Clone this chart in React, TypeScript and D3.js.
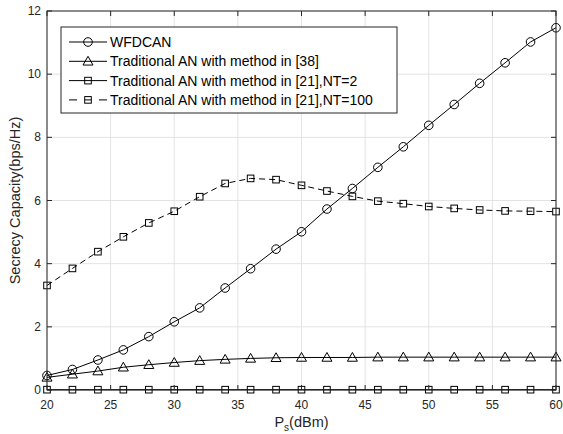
import React from "react";
import * as d3 from "d3";

const W = 563;
const H = 434;

const powerDbm = [20, 22, 24, 26, 28, 30, 32, 34, 36, 38, 40, 42, 44, 46, 48, 50, 52, 54, 56, 58, 60];

const wfdcan = [0.46, 0.65, 0.95, 1.27, 1.69, 2.16, 2.6, 3.23, 3.84, 4.46, 5.01, 5.73, 6.38, 7.05, 7.7, 8.38, 9.04, 9.71, 10.36, 11.02, 11.47];
const anMethod38 = [0.4, 0.5, 0.6, 0.72, 0.8, 0.87, 0.93, 0.97, 1.0, 1.02, 1.03, 1.03, 1.03, 1.04, 1.04, 1.04, 1.04, 1.04, 1.04, 1.04, 1.04];
const anMethod21Nt2 = [0.01, 0.01, 0.01, 0.01, 0.01, 0.01, 0.01, 0.01, 0.01, 0.01, 0.01, 0.01, 0.01, 0.01, 0.01, 0.01, 0.01, 0.01, 0.01, 0.01, 0.01];
const anMethod21Nt100 = [3.31, 3.85, 4.38, 4.85, 5.29, 5.66, 6.12, 6.54, 6.7, 6.66, 6.48, 6.3, 6.13, 5.98, 5.9, 5.81, 5.75, 5.7, 5.67, 5.66, 5.65];

const xTicks = [20, 25, 30, 35, 40, 45, 50, 55, 60];
const yTicks = [0, 2, 4, 6, 8, 10, 12];

const legendLabels = [
  "WFDCAN",
  "Traditional AN with method in [38]",
  "Traditional AN with method in [21],NT=2",
  "Traditional AN with method in [21],NT=100",
];

type Marker = "circle" | "triangle" | "square";
const seriesList: { values: number[]; marker: Marker; dashed: boolean }[] = [
  { values: wfdcan, marker: "circle", dashed: false },
  { values: anMethod38, marker: "triangle", dashed: false },
  { values: anMethod21Nt2, marker: "square", dashed: false },
  { values: anMethod21Nt100, marker: "square", dashed: true },
];

const margin = { left: 47, right: 7, top: 11, bottom: 44 };
const FONT = "'Liberation Sans', Arial, Helvetica, sans-serif";
const INK = "#262626";

function MarkerShape({ kind, x, y }: { kind: Marker; x: number; y: number }) {
  const common = { fill: "none", stroke: "#000", strokeWidth: 1 };
  if (kind === "circle") return <circle cx={x} cy={y} r={4.3} {...common} />;
  if (kind === "square") return <rect x={x - 3.3} y={y - 3.3} width={6.6} height={6.6} {...common} />;
  const s = 5;
  const pts = `${x},${y - s} ${x + s},${y + s * 0.75} ${x - s},${y + s * 0.75}`;
  return <polygon points={pts} {...common} />;
}

export default function App() {
  const x = d3.scaleLinear().domain([20, 60]).range([margin.left, W - margin.right]);
  const y = d3.scaleLinear().domain([0, 12]).range([H - margin.bottom, margin.top]);
  const [x0, x1] = x.range();
  const [y0, y1] = y.range();

  const line = d3
    .line<number>()
    .x((_, i) => x(powerDbm[i]))
    .y((v) => y(v));

  const tickLen = 5;
  const legend = { x: 61, y: 27, w: 336, h: 86, row: 19.3 };

  return (
    <svg
      width={W}
      height={H}
      style={{ position: "absolute", left: 0, top: 0, background: "#fff" }}
      fontFamily={FONT}
    >
      <rect x={0} y={0} width={W} height={H} fill="#fff" />
      {/* grid */}
      <g stroke="#e3e3e3" strokeWidth={1}>
        {xTicks.map((t) => (
          <line key={"gx" + t} x1={x(t)} x2={x(t)} y1={y1} y2={y0} />
        ))}
        {yTicks.map((t) => (
          <line key={"gy" + t} x1={x0} x2={x1} y1={y(t)} y2={y(t)} />
        ))}
      </g>

      {/* series */}
      {seriesList.map((s, si) => (
        <g key={"s" + si}>
          <path
            d={line(s.values) ?? ""}
            fill="none"
            stroke="#000"
            strokeWidth={1}
            strokeDasharray={s.dashed ? "6,4" : undefined}
          />
          {s.values.map((v, i) => (
            <MarkerShape key={i} kind={s.marker} x={x(powerDbm[i])} y={y(v)} />
          ))}
        </g>
      ))}

      {/* axes box and ticks */}
      <g stroke={INK} strokeWidth={1} fill="none">
        <rect x={x0} y={y1} width={x1 - x0} height={y0 - y1} />
        {xTicks.map((t) => (
          <g key={"tx" + t}>
            <line x1={x(t)} x2={x(t)} y1={y0} y2={y0 - tickLen} />
            <line x1={x(t)} x2={x(t)} y1={y1} y2={y1 + tickLen} />
          </g>
        ))}
        {yTicks.map((t) => (
          <g key={"ty" + t}>
            <line x1={x0} x2={x0 + tickLen} y1={y(t)} y2={y(t)} />
            <line x1={x1} x2={x1 - tickLen} y1={y(t)} y2={y(t)} />
          </g>
        ))}
      </g>

      {/* tick labels */}
      <g fill={INK} fontSize={12}>
        {xTicks.map((t) => (
          <text key={"lx" + t} x={x(t)} y={y0 + 19} textAnchor="middle">
            {t}
          </text>
        ))}
        {yTicks.map((t) => (
          <text key={"ly" + t} x={x0 - 6} y={y(t) + 4} textAnchor="end">
            {t}
          </text>
        ))}
      </g>

      {/* axis titles */}
      <text x={(x0 + x1) / 2} y={H - 7} textAnchor="middle" fill={INK} fontSize={14.5}>
        P
        <tspan fontSize={10} dy={4}>s</tspan>
        <tspan dy={-4}>(dBm)</tspan>
      </text>
      <text
        transform={`translate(20, ${(y0 + y1) / 2}) rotate(-90)`}
        textAnchor="middle"
        fill={INK}
        fontSize={14.5}
      >
        Secrecy Capacity(bps/Hz)
      </text>

      {/* legend */}
      <g>
        <rect x={legend.x} y={legend.y} width={legend.w} height={legend.h} fill="#fff" stroke={INK} strokeWidth={1} />
        {seriesList.map((s, i) => {
          const cy = legend.y + 15 + i * legend.row;
          const lx0 = legend.x + 8;
          const lx1 = legend.x + 46;
          const mx = (lx0 + lx1) / 2;
          return (
            <g key={"lg" + i}>
              {s.dashed ? (
                <>
                  <line x1={lx0} x2={lx0 + 8} y1={cy} y2={cy} stroke="#000" />
                  <line x1={lx1 - 8} x2={lx1} y1={cy} y2={cy} stroke="#000" />
                  <line x1={mx - 3.3} x2={mx + 3.3} y1={cy} y2={cy} stroke="#000" />
                </>
              ) : (
                <line x1={lx0} x2={lx1} y1={cy} y2={cy} stroke="#000" />
              )}
              <MarkerShape kind={s.marker} x={mx} y={cy} />
              <text x={legend.x + 49} y={cy + 5} fontSize={14} fill="#000">
                {legendLabels[i]}
              </text>
            </g>
          );
        })}
      </g>
    </svg>
  );
}
